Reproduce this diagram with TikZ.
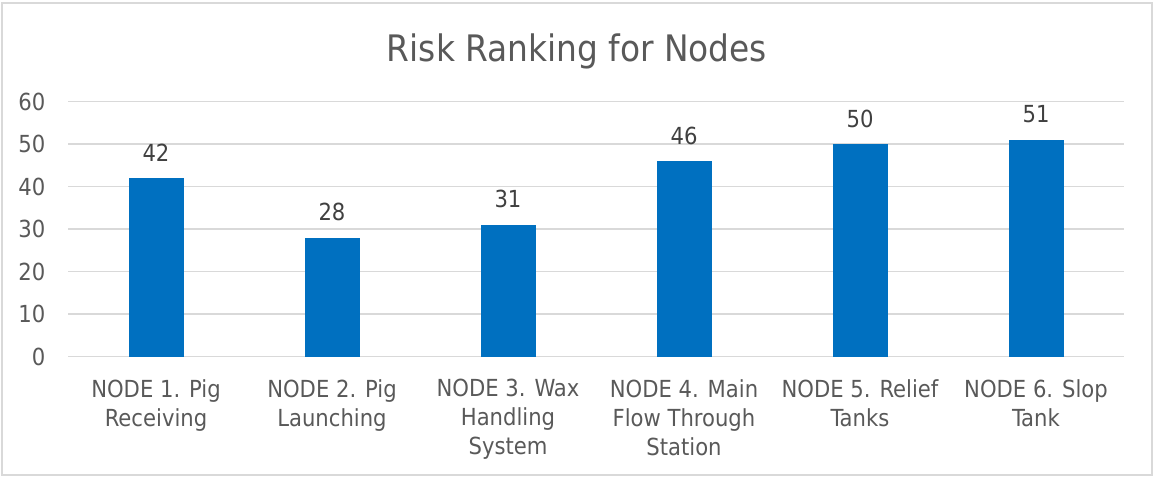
\documentclass[tikz,border=0pt]{standalone}
\usepackage{fontspec}
\setmainfont{DejaVu Sans Condensed}
\definecolor{axisgray}{HTML}{595959}
\definecolor{labelgray}{HTML}{404040}
\definecolor{gridgray}{HTML}{D9D9D9}
\definecolor{barblue}{HTML}{0070C0}
\tikzset{
  frame/.style={draw=gridgray, line width=1.3pt},
  gridline/.style={draw=gridgray, line width=1.3pt},
  bar/.style={fill=barblue},
  titletext/.style={text=axisgray, inner sep=0pt, font=\fontsize{36.5}{44}\selectfont},
  ticktext/.style={text=axisgray, inner sep=0pt, anchor=base east, font=\fontsize{23.5}{29}\selectfont},
  valtext/.style={text=labelgray, inner sep=0pt, anchor=base, font=\fontsize{23.5}{29}\selectfont},
  cattext/.style={text=axisgray, inner sep=0pt, anchor=north, align=center, font=\fontsize{23.5}{29}\selectfont},
}
\begin{document}
\begin{tikzpicture}[x=1pt, y=-1pt]
  \useasboundingbox (0,0) rectangle (1154,477);
  % chart area frame
  \draw[frame] (2,3) rectangle (1152,475);
  % title
  \node[titletext, anchor=base] (title) at (577,61) {Risk Ranking for Nodes};
  % horizontal grid lines and value axis labels (0..60, 4.25 px per unit)
  \foreach \v in {0,10,...,60} {
    \pgfmathsetmacro{\gy}{356.5-4.25*\v}
    \draw[gridline] (68,\gy) -- (1124,\gy);
    \node[ticktext] (tick\v) at (45.5,\gy+8.5) {\v};
  }
  % bars with their value labels
  \foreach \i/\val in {1/42,2/28,3/31,4/46,5/50,6/51} {
    \pgfmathsetmacro{\cx}{68+176*(\i-0.5)}
    \pgfmathsetmacro{\top}{356.5-4.25*\val}
    \fill[bar] (\cx-27.5,356.5) rectangle (\cx+27.5,\top);
    \node[valtext] (val\i) at (\cx,\top-17) {\val};
  }
  % category labels
  \node[cattext] (cat1) at (156,379) {NODE 1. Pig\\Receiving};
  \node[cattext] (cat2) at (332,379) {NODE 2. Pig\\Launching};
  \node[cattext] (cat3) at (508,379) {NODE 3. Wax\\Handling\\System};
  \node[cattext] (cat4) at (684,379) {NODE 4. Main\\Flow Through\\Station};
  \node[cattext] (cat5) at (860,379) {NODE 5. Relief\\Tanks};
  \node[cattext] (cat6) at (1036,379) {NODE 6. Slop\\Tank};
\end{tikzpicture}
\end{document}
